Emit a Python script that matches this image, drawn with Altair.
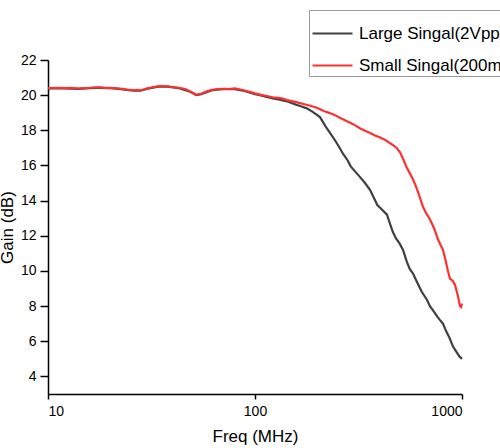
import altair as alt
import pandas as pd

# ---- data ----
large_label = "Large Singal(2Vpp)"
small_label = "Small Singal(200mVpp)"

small_freq = [10, 11, 12, 13, 14, 15, 16, 17, 18, 19, 20, 21, 22, 23, 24, 25, 26, 27, 28, 29,
              30, 32, 34, 36, 38, 40, 43, 46, 49, 52, 55, 58, 62, 66, 70, 75, 80, 85, 90, 95,
              100, 107, 114, 122, 130, 136, 143, 150, 158, 165, 175, 185, 199, 215, 230, 245,
              257, 275, 290, 305, 321, 340, 360, 380, 400, 426, 445, 465, 485, 502, 520, 540,
              560, 580, 600, 625, 648, 670, 695, 716, 740, 765, 790, 809, 830, 855, 875, 900,
              925, 950, 978, 990, 1000]
small_gain = [20.40, 20.42, 20.40, 20.41, 20.38, 20.40, 20.42, 20.45, 20.44, 20.40, 20.42, 20.40,
              20.38, 20.36, 20.32, 20.30, 20.28, 20.30, 20.28, 20.32, 20.38, 20.45, 20.50, 20.52,
              20.50, 20.45, 20.42, 20.35, 20.20, 20.02, 20.08, 20.20, 20.30, 20.35, 20.36, 20.35,
              20.38, 20.32, 20.25, 20.18, 20.10, 20.02, 19.95, 19.88, 19.85, 19.80, 19.72, 19.66,
              19.60, 19.55, 19.47, 19.40, 19.28, 19.10, 18.98, 18.85, 18.72, 18.55, 18.42, 18.28,
              18.12, 17.98, 17.85, 17.70, 17.60, 17.45, 17.30, 17.15, 16.98, 16.75, 16.35, 15.90,
              15.55, 15.20, 14.80, 14.20, 13.65, 13.30, 13.00, 12.70, 12.30, 11.80, 11.45, 11.20,
              10.70, 10.00, 9.55, 9.45, 9.20, 8.70, 8.00, 7.95, 8.15]

large_freq = [10, 12, 14, 16, 18, 20, 22, 24, 26, 28, 30, 34, 38, 43, 49, 52, 55, 62, 70, 80,
              90, 100, 107, 114, 122, 130, 136, 143, 150, 158, 165, 178, 190, 206, 220, 232,
              243, 255, 265, 280, 290, 305, 321, 340, 360, 372, 390, 410, 434, 450, 464, 480,
              500, 519, 542, 560, 580, 610, 640, 678, 700, 730, 760, 783, 809, 840, 870, 905,
              940, 970, 1000]
large_gain = [20.38, 20.38, 20.36, 20.40, 20.42, 20.40, 20.36, 20.30, 20.26, 20.26, 20.36, 20.48,
              20.48, 20.40, 20.18, 20.00, 20.06, 20.28, 20.34, 20.34, 20.22, 20.05, 19.98, 19.90,
              19.82, 19.76, 19.70, 19.65, 19.55, 19.45, 19.38, 19.25, 19.05, 18.75, 18.20, 17.80,
              17.45, 17.05, 16.70, 16.30, 15.95, 15.65, 15.35, 15.00, 14.60, 14.25, 13.75, 13.50,
              13.20, 12.65, 12.20, 11.85, 11.55, 11.20, 10.50, 10.10, 9.85, 9.30, 8.80, 8.35,
              8.00, 7.70, 7.40, 7.20, 7.00, 6.55, 6.20, 5.70, 5.40, 5.15, 5.00]

y_major = [4, 6, 8, 10, 12, 14, 16, 18, 20, 22]
x_major = [10, 100, 1000]

FONT = "Liberation Sans"

df_large = pd.DataFrame({"freq": large_freq, "gain": large_gain, "series": large_label})
df_small = pd.DataFrame({"freq": small_freq, "gain": small_gain, "series": small_label})

x_enc = alt.X(
    "freq:Q",
    scale=alt.Scale(type="log", domain=[10, 1000]),
    axis=alt.Axis(
        values=x_major,
        labelExpr="format(datum.value, 'd')",
        tickSize=5,
        grid=False,
        title="Freq (MHz)",
        titleFontSize=17,
        titleFontWeight="normal",
        titleFont=FONT,
        titleColor="black",
        titlePadding=10,
        labelFont=FONT,
        labelFontSize=14,
        labelColor="black",
        labelPadding=5,
        domainColor="black",
        domainWidth=1.5,
        tickColor="black",
        tickWidth=1.5,
    ),
)
y_enc = alt.Y(
    "gain:Q",
    scale=alt.Scale(domain=[3, 22], nice=False, zero=False),
    axis=alt.Axis(
        values=y_major,
        tickSize=8,
        grid=False,
        title="Gain (dB)",
        titleFontSize=17,
        titleFontWeight="normal",
        titleFont=FONT,
        titleColor="black",
        titlePadding=4,
        labelFont=FONT,
        labelFontSize=14,
        labelColor="black",
        labelPadding=4,
        domainColor="black",
        domainWidth=1.5,
        tickColor="black",
        tickWidth=1.5,
    ),
)

color_scale = alt.Scale(domain=[large_label, small_label], range=["#404040", "#ff3030"])
legend = alt.Legend(
    orient="none",
    legendX=261,
    legendY=-50,
    title=None,
    symbolType="stroke",
    symbolSize=1600,
    symbolStrokeWidth=2.2,
    labelFont=FONT,
    labelFontSize=17,
    labelColor="black",
    labelOffset=5,
    labelLimit=600,
    padding=2,
    strokeColor="#9a9a9a",
    fillColor="white",
)

line_large = alt.Chart(df_large).mark_line(strokeWidth=2.2).encode(
    x=x_enc, y=y_enc,
    color=alt.Color("series:N", scale=color_scale, legend=legend),
)
line_small = alt.Chart(df_small).mark_line(strokeWidth=2.2).encode(
    x=x_enc, y=y_enc,
    color=alt.Color("series:N", scale=color_scale, legend=legend),
)

chart = alt.layer(line_large, line_small).properties(
    width=414,
    height=334,
    padding={"left": 48, "top": 60, "right": 38, "bottom": 54},
    autosize=alt.AutoSizeParams(type="none"),
    background="white",
).configure_view(stroke=None)

chart.save("out.html", embed_options={"renderer": "svg", "actions": False})
